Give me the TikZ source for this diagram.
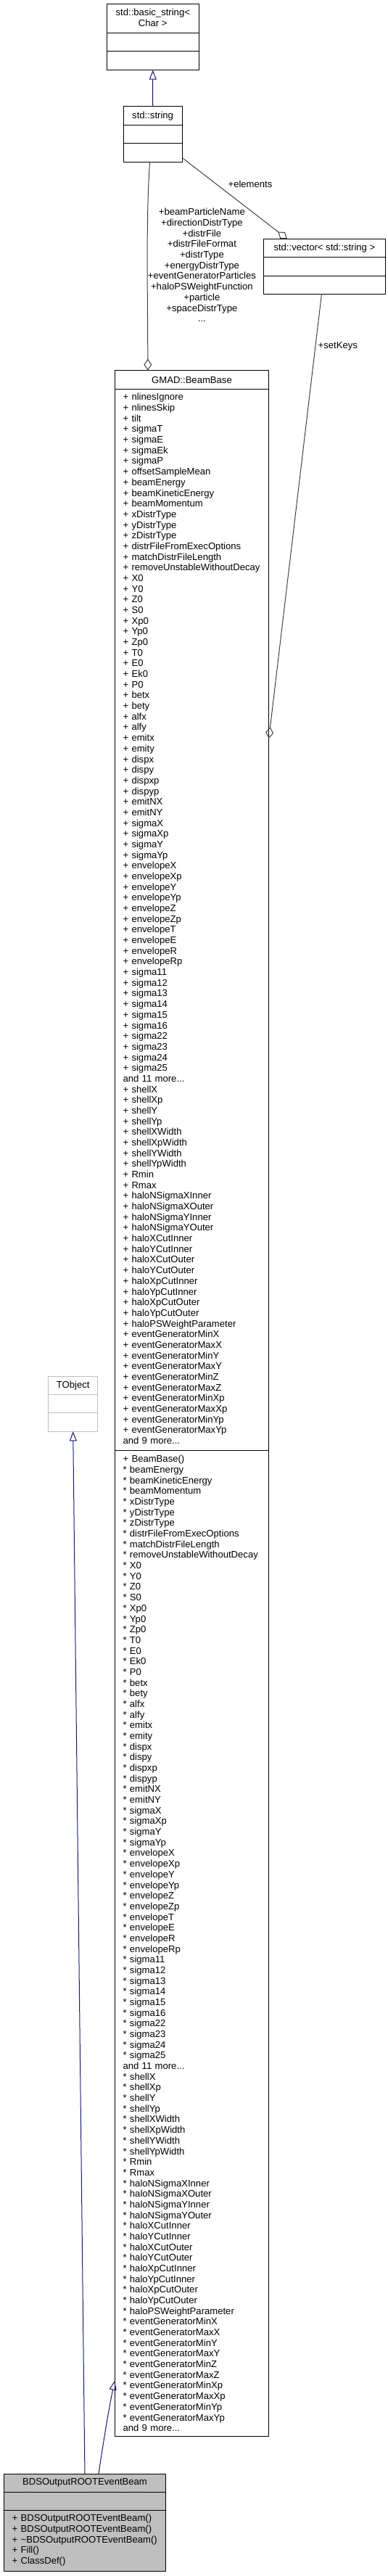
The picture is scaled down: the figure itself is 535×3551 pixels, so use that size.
\documentclass[tikz,border=0pt]{standalone}
\usepackage{fontspec}
\setmainfont{Liberation Sans}
\usetikzlibrary{arrows.meta}
\definecolor{edgeblue}{HTML}{191970}
\definecolor{edgegray}{HTML}{404040}
\definecolor{othergray}{HTML}{BFBFBF}
\newcommand{\docfont}{\fontsize{13.1}{14.68}\selectfont\hyphenpenalty=10000 }

\begin{document}
\begin{tikzpicture}[x=1pt,y=-1pt,
    classbox/.style={draw=black,line width=1pt,fill=white,inner sep=0pt,outer sep=0pt,anchor=north west},
    divider/.style={line width=1pt},
    members/.style={inner sep=0pt,anchor=north west,text width=200pt,align=left,font=\docfont},
    classname/.style={inner sep=0pt,align=center,font=\docfont},
    edgelabel/.style={inner sep=0pt,align=center,font=\docfont},
    inherit/.style={edgeblue,line width=1pt,-{Triangle[open,length=13pt,width=10pt]}},
    aggregate/.style={edgegray,line width=1pt,-{Diamond[open,length=16pt,width=11pt]}}]

    \useasboundingbox (0,0) rectangle (535,3551);

    % std::basic_string< Char >
    \node[classbox,minimum width=127pt,minimum height=91pt] (bstr) at (147.3,5.7) {};
    \draw[divider] (147.3,45.7) -- (274.3,45.7);
    \draw[divider] (147.3,71) -- (274.3,71);
    \node[classname] (bstrname) at (210.8,24.5) {std::basic\_string<\\Char >};

    % std::string
    \node[classbox,minimum width=80.8pt,minimum height=76pt] (str) at (170.2,147) {};
    \draw[divider] (170.2,172.3) -- (251,172.3);
    \draw[divider] (170.2,197.7) -- (251,197.7);
    \node[classname] (strname) at (210.6,159.7) {std::string};

    % std::vector< std::string >
    \node[classbox,minimum width=167.5pt,minimum height=75.7pt] (vec) at (363.7,329.3) {};
    \draw[divider] (363.7,354.3) -- (531.2,354.3);
    \draw[divider] (363.7,380) -- (531.2,380);
    \node[classname] (vecname) at (447.4,341.8) {std::vector< std::string >};

    % GMAD::BeamBase
    \node[classbox,minimum width=212.4pt,minimum height=2848pt] (bb) at (158.3,510.7) {};
    \draw[divider] (158.3,536.7) -- (370.7,536.7);
    \draw[divider] (158.3,1999.3) -- (370.7,1999.3);
    \node[classname] (bbname) at (264.5,523.7) {GMAD::BeamBase};
    \node[members] (bbattr) at (169.3,542.2) {+ nlinesIgnore\\+ nlinesSkip\\+ tilt\\+ sigmaT\\+ sigmaE\\+ sigmaEk\\+ sigmaP\\
        + offsetSampleMean\\+ beamEnergy\\+ beamKineticEnergy\\+ beamMomentum\\
        + xDistrType\\+ yDistrType\\+ zDistrType\\+ distrFileFromExecOptions\\+ matchDistrFileLength\\+ removeUnstableWithoutDecay\\
        + X0\\+ Y0\\+ Z0\\+ S0\\+ Xp0\\+ Yp0\\+ Zp0\\+ T0\\+ E0\\+ Ek0\\+ P0\\
        + betx\\+ bety\\+ alfx\\+ alfy\\+ emitx\\+ emity\\+ dispx\\+ dispy\\+ dispxp\\+ dispyp\\+ emitNX\\+ emitNY\\
        + sigmaX\\+ sigmaXp\\+ sigmaY\\+ sigmaYp\\
        + envelopeX\\+ envelopeXp\\+ envelopeY\\+ envelopeYp\\+ envelopeZ\\+ envelopeZp\\+ envelopeT\\+ envelopeE\\+ envelopeR\\+ envelopeRp\\
        + sigma11\\+ sigma12\\+ sigma13\\+ sigma14\\+ sigma15\\+ sigma16\\+ sigma22\\+ sigma23\\+ sigma24\\+ sigma25\\
        and 11 more...\\
        + shellX\\+ shellXp\\+ shellY\\+ shellYp\\+ shellXWidth\\+ shellXpWidth\\+ shellYWidth\\+ shellYpWidth\\+ Rmin\\+ Rmax\\
        + haloNSigmaXInner\\+ haloNSigmaXOuter\\+ haloNSigmaYInner\\+ haloNSigmaYOuter\\
        + haloXCutInner\\+ haloYCutInner\\+ haloXCutOuter\\+ haloYCutOuter\\
        + haloXpCutInner\\+ haloYpCutInner\\+ haloXpCutOuter\\+ haloYpCutOuter\\+ haloPSWeightParameter\\
        + eventGeneratorMinX\\+ eventGeneratorMaxX\\+ eventGeneratorMinY\\+ eventGeneratorMaxY\\+ eventGeneratorMinZ\\+ eventGeneratorMaxZ\\
        + eventGeneratorMinXp\\+ eventGeneratorMaxXp\\+ eventGeneratorMinYp\\+ eventGeneratorMaxYp\\
        and 9 more...};
    \node[members] (bbmeth) at (169.3,2006.1) {+ BeamBase()\\{*} beamEnergy\\{*} beamKineticEnergy\\{*} beamMomentum\\
        {*} xDistrType\\{*} yDistrType\\{*} zDistrType\\{*} distrFileFromExecOptions\\{*} matchDistrFileLength\\{*} removeUnstableWithoutDecay\\
        {*} X0\\{*} Y0\\{*} Z0\\{*} S0\\{*} Xp0\\{*} Yp0\\{*} Zp0\\{*} T0\\{*} E0\\{*} Ek0\\{*} P0\\
        {*} betx\\{*} bety\\{*} alfx\\{*} alfy\\{*} emitx\\{*} emity\\{*} dispx\\{*} dispy\\{*} dispxp\\{*} dispyp\\{*} emitNX\\{*} emitNY\\
        {*} sigmaX\\{*} sigmaXp\\{*} sigmaY\\{*} sigmaYp\\
        {*} envelopeX\\{*} envelopeXp\\{*} envelopeY\\{*} envelopeYp\\{*} envelopeZ\\{*} envelopeZp\\{*} envelopeT\\{*} envelopeE\\{*} envelopeR\\{*} envelopeRp\\
        {*} sigma11\\{*} sigma12\\{*} sigma13\\{*} sigma14\\{*} sigma15\\{*} sigma16\\{*} sigma22\\{*} sigma23\\{*} sigma24\\{*} sigma25\\
        and 11 more...\\
        {*} shellX\\{*} shellXp\\{*} shellY\\{*} shellYp\\{*} shellXWidth\\{*} shellXpWidth\\{*} shellYWidth\\{*} shellYpWidth\\{*} Rmin\\{*} Rmax\\
        {*} haloNSigmaXInner\\{*} haloNSigmaXOuter\\{*} haloNSigmaYInner\\{*} haloNSigmaYOuter\\
        {*} haloXCutInner\\{*} haloYCutInner\\{*} haloXCutOuter\\{*} haloYCutOuter\\
        {*} haloXpCutInner\\{*} haloYpCutInner\\{*} haloXpCutOuter\\{*} haloYpCutOuter\\{*} haloPSWeightParameter\\
        {*} eventGeneratorMinX\\{*} eventGeneratorMaxX\\{*} eventGeneratorMinY\\{*} eventGeneratorMaxY\\{*} eventGeneratorMinZ\\{*} eventGeneratorMaxZ\\
        {*} eventGeneratorMinXp\\{*} eventGeneratorMaxXp\\{*} eventGeneratorMinYp\\{*} eventGeneratorMaxYp\\
        and 9 more...};

    % TObject
    \node[classbox,draw=othergray,minimum width=68pt,minimum height=76.3pt] (tobj) at (66.7,1897) {};
    \draw[divider,othergray] (66.7,1922.3) -- (134.7,1922.3);
    \draw[divider,othergray] (66.7,1947.7) -- (134.7,1947.7);
    \node[classname] (tobjname) at (100.7,1909.7) {TObject};

    % BDSOutputROOTEventBeam
    \node[classbox,fill=othergray,minimum width=223.7pt,minimum height=134.7pt] (bds) at (5.1,3410) {};
    \draw[divider] (5.1,3435) -- (228.8,3435);
    \draw[divider] (5.1,3460.3) -- (228.8,3460.3);
    \node[classname] (bdsname) at (117,3422.5) {BDSOutputROOTEventBeam};
    \node[members,text width=212pt] (bdsmeth) at (16.4,3466.1) {+ BDSOutputROOTEventBeam()\\+ BDSOutputROOTEventBeam()\\
        + \textasciitilde BDSOutputROOTEventBeam()\\+ Fill()\\+ ClassDef()};

    % relations
    \draw[inherit] (str.north) -- (bstr.south);
    \draw[aggregate] ([xshift=-4pt]str.south) .. controls (201,300) and (203.8,420) .. ([xshift=-60.7pt]bb.north);
    \node[edgelabel,anchor=north] (strlabels) at (278.4,287.2) {+beamParticleName\\+directionDistrType\\+distrFile\\
        +distrFileFormat\\+distrType\\+energyDistrType\\+eventGeneratorParticles\\+haloPSWeightFunction\\+particle\\+spaceDistrType\\...};
    \draw[aggregate] ([yshift=5.7pt]str.south east) -- ([xshift=32.3pt]vec.north west);
    \node[edgelabel] (elemlabel) at (345,254) {+elements};
    \draw[aggregate] ([xshift=79.8pt]vec.south west) -- ([yshift=-507.3pt]bb.north east);
    \node[edgelabel] (keyslabel) at (465.8,477.7) {+setKeys};
    \draw[inherit] (bds.north) -- (tobj.south);
    \draw[inherit] ([xshift=19pt]bds.north) .. controls (142,3370) and (150,3320) .. ([yshift=77pt]bb.south west);
\end{tikzpicture}
\end{document}
